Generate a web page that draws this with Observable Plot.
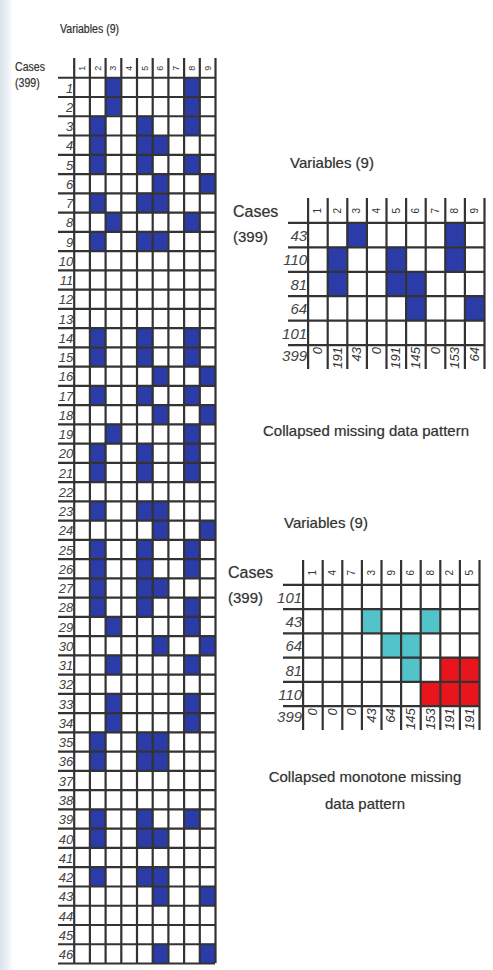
<!DOCTYPE html>
<html><head><meta charset="utf-8">
<script src="https://cdn.jsdelivr.net/npm/d3@7"></script>
<script src="https://cdn.jsdelivr.net/npm/@observablehq/plot@0.6"></script>
<style>
body{margin:0;background:#fff;}
#page{position:relative;width:493px;height:970px;overflow:hidden;font-family:"Liberation Sans",Arial,sans-serif;color:#333;
 background:linear-gradient(to right,#d9e3ec 0,#e9eff4 7px,#fff 13px);}
.lbl{position:absolute;white-space:nowrap;line-height:1;text-shadow:0 0 1px rgba(0,0,0,0.35);}
.chart{position:absolute;}
.chart svg{background:transparent;}
</style></head><body><div id="page"></div>
<script>
// ---- data ----
const variables = [1,2,3,4,5,6,7,8,9];
const caseIds = d3.range(1, 47);
const caseMissing = [
  [3,8],[3,8],[2,5,8],[2,5,6],[2,5,8],[6,9],[2,5,6],[3,8],[2,5,6],[],
  [],[],[],[2,5,8],[2,5,8],[6,9],[2,5,8],[6,9],[3,8],[2,5,8],
  [2,5,8],[],[2,5,6],[6,9],[2,5,8],[2,5,8],[2,5,6],[2,5,8],[3,8],[6,9],
  [3,8],[],[3,8],[3,8],[2,5,6],[2,5,6],[],[],[2,5,8],[2,5,6],
  [],[2,5,6],[6,9],[],[],[6,9]
];
const totalCases = 399;
const patternCounts = [43,110,81,64,101];
const patternMissing = [[3,8],[2,5,8],[2,5,6],[6,9],[]];
const variableTotals = [0,191,43,0,191,145,0,153,64];
const monotoneOrder = [1,4,7,3,9,6,8,2,5];
const monotoneCounts = [101,43,64,81,110];
const monotoneMissing = [[],[3,8],[9,6],[6],[]];
const monotoneBlock = [[],[],[],[2,5],[8,2,5]];
const monotoneTotals = [0,0,0,43,64,145,153,191,191];

const BLUE = "#2b3ca8", TEAL = "#52c4c9", RED = "#e8161c", LINE = "#333";

function grid(o) {
  const n = o.order.length;
  const nRows = o.rowLabels.length;
  const last = nRows + (o.totals ? 1 : 0);
  const colOf = v => o.order.indexOf(v);
  const marks = [
    Plot.rect(o.cells, {x1: d => colOf(d.v), x2: d => colOf(d.v) + 1, y1: d => d.r, y2: d => d.r + 1, fill: d => d.c}),
    Plot.ruleX(d3.range(0, n + 1), {x: d => d, y1: -1, y2: last, stroke: LINE, strokeWidth: o.sw}),
    Plot.ruleY(d3.range(0, nRows + 1), {y: d => d, x1: -1, x2: n, stroke: LINE, strokeWidth: o.sw}),
    Plot.text(o.order, {x: (d, i) => i + 0.5, y: -0.5, text: d => String(d), rotate: -90, fontSize: o.hf, fill: "#333"}),
    Plot.text(o.rowLabels, {x: 0, y: (d, i) => i + 0.5, text: d => String(d), textAnchor: "end", dx: -1, dy: 1,
      fontSize: o.rf, fontStyle: "italic", fill: "#444", fontFamily: o.rfam})
  ];
  if (o.totals) {
    marks.push(Plot.text([totalCases], {x: 0, y: nRows + 0.45, text: d => String(d), textAnchor: "end", dx: -1,
      fontSize: o.rf, fontStyle: "italic", fill: "#444"}));
    marks.push(Plot.text(o.totals, {x: (d, i) => i + 0.5, y: nRows + 0.08, text: d => String(d), rotate: -90,
      textAnchor: "end", fontSize: o.tf, fontStyle: "italic", fill: "#333"}));
  }
  return Plot.plot({
    width: o.w, height: o.h,
    marginLeft: o.ml, marginRight: o.mr, marginTop: o.mt, marginBottom: o.mb,
    x: {domain: [-1, n], axis: null},
    y: {domain: [-1, last], reverse: true, axis: null},
    color: {type: "identity"},
    style: {background: "transparent", fontFamily: "'Liberation Sans', Arial, sans-serif", overflow: "visible"},
    marks
  });
}

const page = document.getElementById("page");
function place(node, left, top) {
  const d = document.createElement("div");
  d.className = "chart"; d.style.left = left + "px"; d.style.top = top + "px";
  d.appendChild(node); page.appendChild(d);
}
function label(text, left, top, size, extra) {
  const d = document.createElement("div");
  d.className = "lbl"; d.textContent = text;
  d.style.left = left + "px"; d.style.top = top + "px"; d.style.fontSize = size + "px";
  if (extra) Object.assign(d.style, extra);
  page.appendChild(d);
}

// full case grid
const cells1 = [];
caseMissing.forEach((vs, r) => vs.forEach(v => cells1.push({r, v, c: BLUE})));
place(grid({order: variables, rowLabels: caseIds, cells: cells1, sw: 2.2, hf: 9, rf: 13,
  rfam: "'Liberation Sans Narrow', 'Liberation Sans', Arial, sans-serif",
  w: 222, h: 970, ml: 58, mr: 7, mt: 58, mb: 7}), 0, 0);
label("Variables  (9)", 60, 23, 12, {transform: "scaleX(0.88)", transformOrigin: "left"});
label("Cases", 15, 61, 12, {transform: "scaleX(0.88)", transformOrigin: "left"});
label("(399)", 15, 77, 12, {transform: "scaleX(0.88)", transformOrigin: "left"});

// collapsed pattern
const cells2 = [];
patternMissing.forEach((vs, r) => vs.forEach(v => cells2.push({r, v, c: BLUE})));
place(grid({order: variables, rowLabels: patternCounts, cells: cells2, totals: variableTotals, sw: 2.2, hf: 10, rf: 15, tf: 13,
  w: 271, h: 240, ml: 66, mr: 9, mt: 58, mb: 11}), 222, 140);
label("Variables  (9)", 290, 155, 15);
label("Cases", 233, 204, 16);
label("(399)", 233, 229, 15);
label("Collapsed missing data pattern", 366, 423, 15, {transform: "translateX(-50%)"});

// monotone pattern
const cells3 = [];
monotoneMissing.forEach((vs, r) => vs.forEach(v => cells3.push({r, v, c: TEAL})));
monotoneBlock.forEach((vs, r) => vs.forEach(v => cells3.push({r, v, c: RED})));
place(grid({order: monotoneOrder, rowLabels: monotoneCounts, cells: cells3, totals: monotoneTotals, sw: 2.2, hf: 10, rf: 15, tf: 13,
  w: 271, h: 240, ml: 61, mr: 14, mt: 60, mb: 10}), 222, 500);
label("Variables  (9)", 284, 515, 15);
label("Cases", 228, 565, 16);
label("(399)", 228, 590, 15);
label("Collapsed monotone missing", 365, 769, 15, {transform: "translateX(-50%)"});
label("data pattern", 365, 796, 15, {transform: "translateX(-50%)"});
</script></body></html>
